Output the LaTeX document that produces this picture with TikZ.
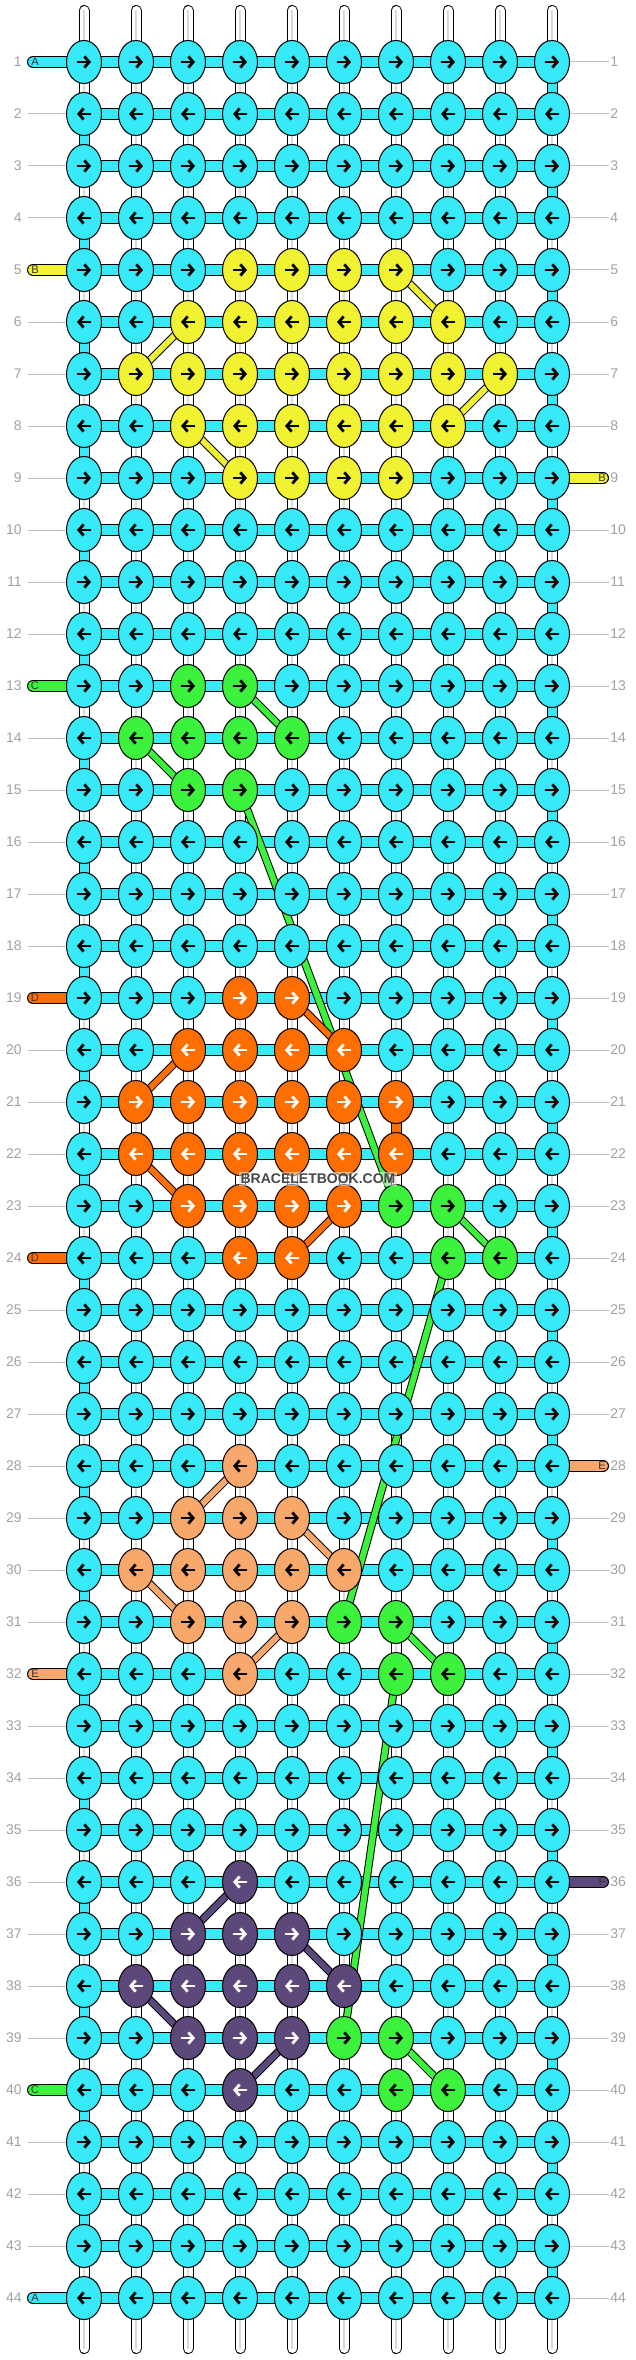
\documentclass[tikz,border=0pt]{standalone}
\usepackage{fontspec}
\setmainfont{Liberation Sans}
\usetikzlibrary{shapes.geometric,arrows.meta,backgrounds}

\definecolor{bbcyan}{RGB}{56,233,247}
\definecolor{bbyellow}{RGB}{240,242,50}
\definecolor{bbgreen}{RGB}{60,242,60}
\definecolor{bborange}{RGB}{255,110,0}
\definecolor{bbpeach}{RGB}{247,168,106}
\definecolor{bbpurple}{RGB}{92,72,122}
\definecolor{rowgray}{RGB}{160,160,160}

% knot colours a..f and the arrow colour on them
\colorlet{col-a}{bbcyan}   \colorlet{arr-a}{black}
\colorlet{col-b}{bbyellow} \colorlet{arr-b}{black}
\colorlet{col-c}{bbgreen}  \colorlet{arr-c}{black}
\colorlet{col-d}{bborange} \colorlet{arr-d}{white}
\colorlet{col-e}{bbpeach}  \colorlet{arr-e}{black}
\colorlet{col-f}{bbpurple} \colorlet{arr-f}{white}

\begin{document}
\begin{tikzpicture}[x=0.5pt, y=-0.5pt,
  knot/.style={ellipse, draw=black, line width=0.5pt, minimum width=17.5pt, minimum height=21.5pt, inner sep=0pt},
  knotarrow/.style={line width=1.4pt, -{Straight Barb[length=2.4pt, width=5.6pt]}},
  basestrand/.style={draw=black, line width=0.5pt, double=white, double distance=4.5pt, line cap=round},
  strand/.style={draw=black, line width=0.5pt, double=#1, double distance=5pt},
  tabstrand/.style={draw=black, line width=0.5pt, double=#1, double distance=5pt, line cap=round},
  edgeturn/.style={draw=black, line width=0.5pt, double=#1, double distance=4.5pt},
  carried/.style={draw=black, line width=0.5pt, double=#1, double distance=3pt},
  rowline/.style={draw=black!25, line width=0.5pt},
  rownum/.style={text=rowgray, inner sep=0pt, font=\fontsize{7}{8}\selectfont},
  tabletter/.style={text=black!80, inner sep=0pt, font=\fontsize{5.6}{6}\selectfont},
  wmark/.style={text=black!72, fill=white, fill opacity=0.5, text opacity=1, inner sep=1pt, font=\bfseries\fontsize{7}{8}\selectfont}
]

\useasboundingbox (0,0) rectangle (636,2360);


% Knots, row by row
\foreach \r/\pat in {
  1/{a,a,a,a,a,a,a,a,a,a},
  2/{a,a,a,a,a,a,a,a,a,a},
  3/{a,a,a,a,a,a,a,a,a,a},
  4/{a,a,a,a,a,a,a,a,a,a},
  5/{a,a,a,b,b,b,b,a,a,a},
  6/{a,a,b,b,b,b,b,b,a,a},
  7/{a,b,b,b,b,b,b,b,b,a},
  8/{a,a,b,b,b,b,b,b,a,a},
  9/{a,a,a,b,b,b,b,a,a,a},
  10/{a,a,a,a,a,a,a,a,a,a},
  11/{a,a,a,a,a,a,a,a,a,a},
  12/{a,a,a,a,a,a,a,a,a,a},
  13/{a,a,c,c,a,a,a,a,a,a},
  14/{a,c,c,c,c,a,a,a,a,a},
  15/{a,a,c,c,a,a,a,a,a,a},
  16/{a,a,a,a,a,a,a,a,a,a},
  17/{a,a,a,a,a,a,a,a,a,a},
  18/{a,a,a,a,a,a,a,a,a,a},
  19/{a,a,a,d,d,a,a,a,a,a},
  20/{a,a,d,d,d,d,a,a,a,a},
  21/{a,d,d,d,d,d,d,a,a,a},
  22/{a,d,d,d,d,d,d,a,a,a},
  23/{a,a,d,d,d,d,c,c,a,a},
  24/{a,a,a,d,d,a,a,c,c,a},
  25/{a,a,a,a,a,a,a,a,a,a},
  26/{a,a,a,a,a,a,a,a,a,a},
  27/{a,a,a,a,a,a,a,a,a,a},
  28/{a,a,a,e,a,a,a,a,a,a},
  29/{a,a,e,e,e,a,a,a,a,a},
  30/{a,e,e,e,e,e,a,a,a,a},
  31/{a,a,e,e,e,c,c,a,a,a},
  32/{a,a,a,e,a,a,c,c,a,a},
  33/{a,a,a,a,a,a,a,a,a,a},
  34/{a,a,a,a,a,a,a,a,a,a},
  35/{a,a,a,a,a,a,a,a,a,a},
  36/{a,a,a,f,a,a,a,a,a,a},
  37/{a,a,f,f,f,a,a,a,a,a},
  38/{a,f,f,f,f,f,a,a,a,a},
  39/{a,a,f,f,f,c,c,a,a,a},
  40/{a,a,a,f,a,a,c,c,a,a},
  41/{a,a,a,a,a,a,a,a,a,a},
  42/{a,a,a,a,a,a,a,a,a,a},
  43/{a,a,a,a,a,a,a,a,a,a},
  44/{a,a,a,a,a,a,a,a,a,a}}{
  \foreach \col [count=\c] in \pat {
    \node[knot, fill=col-\col] (k-\r-\c) at (32+52*\c, 10+52*\r) {};
    \ifodd\r\relax
      \draw[knotarrow, draw=arr-\col] ([xshift=-3.5pt]k-\r-\c.center) -- ([xshift=3.5pt]k-\r-\c.center);
    \else
      \draw[knotarrow, draw=arr-\col] ([xshift=3.5pt]k-\r-\c.center) -- ([xshift=-3.5pt]k-\r-\c.center);
    \fi
  }
  % row numbers
  \node[rownum, anchor=east] (ln-\r) at (22, 10+52*\r) {\r};
  \node[rownum, anchor=west] (rn-\r) at (610, 10+52*\r) {\r};
}


% Watermark
\node[wmark] (wm) at (318,1179) {BRACELETBOOK.COM};


\begin{pgfonlayer}{background}

% White base strings
\foreach \c in {1,...,10}{
  \coordinate (top-\c) at (32+52*\c, 10.5);
  \coordinate (bot-\c) at (32+52*\c, 2348.5);
  \draw[basestrand] (top-\c) -- (bot-\c);
  \draw[black!15, line width=0.8pt] (top-\c) -- (bot-\c);
}

% Row lines
\foreach \r in {1,...,44}{
  \draw[rowline] ([xshift=3pt]ln-\r.east) -- (k-\r-1.west);
  \draw[rowline] (k-\r-10.east) -- ([xshift=-0.5pt]rn-\r.west);
}

% Working strand
\foreach \r in {1,...,44}
  \draw[strand=bbcyan] (k-\r-1.center) -- (k-\r-10.center);

% Turns at the edges
\foreach \r in {1,...,43}{
  \pgfmathtruncatemacro\rr{\r+1}
  \ifodd\r\relax \def\tc{10}\else\def\tc{1}\fi
  \draw[edgeturn=bbcyan] (k-\r-\tc.center) -- (k-\rr-\tc.center);
}

% Tabs left
\foreach \r/\col/\letter in {1/a/A, 5/b/B, 13/c/C, 19/d/D, 24/d/D, 32/e/E, 40/c/C, 44/a/A}{
  \coordinate (tl-\r) at (33, 10+52*\r);
  \draw[tabstrand=col-\col] (tl-\r) -- (k-\r-1.center);
  \node[tabletter] (tln-\r) at (35, 10+52*\r) {\letter};
}

% Tabs right
\foreach \r/\col/\letter in {9/b/B, 28/e/E, 36/f/F}{
  \coordinate (tr-\r) at (603, 10+52*\r);
  \draw[tabstrand=col-\col] (k-\r-10.center) -- (tr-\r);
  \node[tabletter] (trn-\r) at (602, 10+52*\r) {\letter};
}

% Yellow
\draw[carried=bbyellow] (k-5-7.center) -- (k-6-8.center);
\draw[carried=bbyellow] (k-6-3.center) -- (k-7-2.center);
\draw[carried=bbyellow] (k-7-9.center) -- (k-8-8.center);
\draw[carried=bbyellow] (k-8-3.center) -- (k-9-4.center);

% Green
\draw[carried=bbgreen] (k-13-4.center) -- (k-14-5.center);
\draw[carried=bbgreen] (k-14-2.center) -- (k-15-3.center);
\draw[carried=bbgreen] (k-15-4.center) -- (k-23-7.center);
\draw[carried=bbgreen] (k-23-8.center) -- (k-24-9.center);
\draw[carried=bbgreen] (k-24-8.center) -- (k-31-6.center);
\draw[carried=bbgreen] (k-31-7.center) -- (k-32-8.center);
\draw[carried=bbgreen] (k-32-7.center) -- (k-39-6.center);
\draw[carried=bbgreen] (k-39-7.center) -- (k-40-8.center);

% Orange
\draw[carried=bborange] (k-19-5.center) -- (k-20-6.center);
\draw[carried=bborange] (k-20-3.center) -- (k-21-2.center);
\draw[edgeturn=bborange] (k-21-7.center) -- (k-22-7.center);
\draw[carried=bborange] (k-22-2.center) -- (k-23-3.center);
\draw[carried=bborange] (k-23-6.center) -- (k-24-5.center);

% Peach
\draw[carried=bbpeach] (k-28-4.center) -- (k-29-3.center);
\draw[carried=bbpeach] (k-29-5.center) -- (k-30-6.center);
\draw[carried=bbpeach] (k-30-2.center) -- (k-31-3.center);
\draw[carried=bbpeach] (k-31-5.center) -- (k-32-4.center);

% Purple
\draw[carried=bbpurple] (k-36-4.center) -- (k-37-3.center);
\draw[carried=bbpurple] (k-37-5.center) -- (k-38-6.center);
\draw[carried=bbpurple] (k-38-2.center) -- (k-39-3.center);
\draw[carried=bbpurple] (k-39-5.center) -- (k-40-4.center);

\end{pgfonlayer}

\end{tikzpicture}
\end{document}
